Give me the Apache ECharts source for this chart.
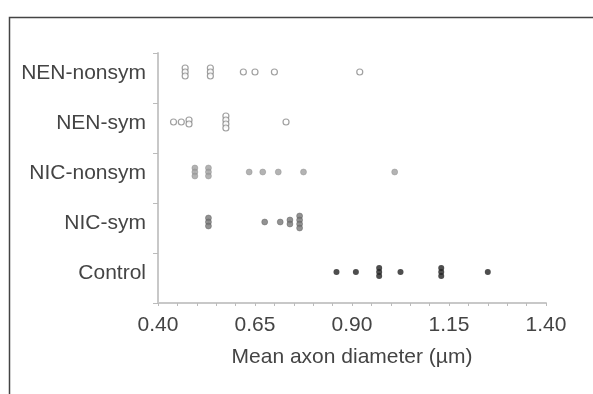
<!DOCTYPE html>
<html>
<head>
<meta charset="utf-8">
<style>
  html, body { margin: 0; padding: 0; background: #fff; }
  #chart { width: 593px; height: 394px; }
</style>
<script src="https://cdn.jsdelivr.net/npm/echarts@6/dist/echarts.min.js"></script>
</head>
<body>
<div id="chart"></div>
<script>
// categories, bottom to top
var groups = ['Control', 'NIC-sym', 'NIC-nonsym', 'NEN-sym', 'NEN-nonsym'];

// mean axon diameter per subject (repeated values stack up)
var controlVals = [0.86, 0.91, 0.97, 0.97, 0.97, 1.025, 1.13, 1.13, 1.13, 1.25];
var nicSymVals = [0.53, 0.53, 0.53, 0.675, 0.715, 0.74, 0.74, 0.765, 0.765, 0.765, 0.765];
var nicNonsymVals = [0.495, 0.495, 0.495, 0.53, 0.53, 0.53, 0.635, 0.67, 0.71, 0.775, 1.01];
var nenSymVals = [0.44, 0.46, 0.48, 0.48, 0.575, 0.575, 0.575, 0.575, 0.73];
var nenNonsymVals = [0.47, 0.47, 0.47, 0.535, 0.535, 0.535, 0.62, 0.65, 0.70, 0.92];

var xTicks = [0.40, 0.65, 0.90, 1.15, 1.40];

var chart = echarts.init(document.getElementById('chart'));

/**
 * dot plot: equal values are stacked vertically around the row
 */
function buildData(vals, groupName) {
    var counts = {};
    vals.forEach(function (v) { counts[v] = (counts[v] || 0) + 1; });
    var seen = {};
    return vals.map(function (v) {
        var n = counts[v];
        var i = seen[v] || 0;
        seen[v] = i + 1;
        var dy = (i - (n - 1) / 2) * 4;
        return { value: [v, groupName], symbolOffset: [0, -6 + dy] };
    });
}

function makeSeries(name, vals, style) {
    return {
        name: name,
        type: 'scatter',
        symbol: 'circle',
        symbolSize: 6,
        itemStyle: style,
        data: buildData(vals, name)
    };
}

var option = {
    backgroundColor: '#fff',
    animation: false,
    textStyle: { fontFamily: 'Liberation Sans, Arial, sans-serif' },
    graphic: [{
        type: 'rect',
        left: 7,
        top: 15,
        shape: { width: 640, height: 440 },
        style: { fill: 'none', stroke: '#444', lineWidth: 1.5 },
        silent: true
    }],
    grid: { left: 158, right: 47, top: 53, bottom: 91 },
    xAxis: {
        type: 'value',
        min: 0.40,
        max: 1.40,
        interval: 0.05,
        name: 'Mean axon diameter (µm)',
        nameLocation: 'middle',
        nameGap: 44,
        nameTextStyle: { fontSize: 21, color: '#444' },
        splitLine: { show: false },
        axisLine: { show: true, lineStyle: { color: '#c8c8c8', width: 2 } },
        axisTick: { show: true, length: 3, lineStyle: { color: '#bbb' } },
        axisLabel: {
            fontSize: 21,
            color: '#444',
            margin: 12,
            formatter: function (v) {
                for (var i = 0; i < xTicks.length; i++) {
                    if (Math.abs(v - xTicks[i]) < 1e-6) return xTicks[i].toFixed(2);
                }
                return '';
            }
        }
    },
    yAxis: {
        type: 'category',
        data: groups,
        boundaryGap: true,
        axisLine: { show: true, lineStyle: { color: '#c8c8c8', width: 2 } },
        axisTick: { show: true, length: 5, lineStyle: { color: '#bbb' } },
        axisLabel: {
            color: '#444',
            margin: 12,
            formatter: function (v) { return '{g|' + v + '}'; },
            rich: {
                g: { fontSize: 21, color: '#444', padding: [0, 0, 10, 0] }
            }
        },
        splitLine: { show: false }
    },
    series: [
        makeSeries('Control', controlVals, { color: '#222' }),
        makeSeries('NIC-sym', nicSymVals, { color: '#777', borderColor: '#555', borderWidth: 0.5 }),
        makeSeries('NIC-nonsym', nicNonsymVals, { color: '#a0a0a0', borderColor: '#888', borderWidth: 0.5 }),
        makeSeries('NEN-sym', nenSymVals, { color: '#fff', borderColor: '#888', borderWidth: 1.2 }),
        makeSeries('NEN-nonsym', nenNonsymVals, { color: '#fff', borderColor: '#888', borderWidth: 1.2 })
    ]
};

chart.setOption(option);
window.addEventListener('resize', function () { chart.resize(); });
</script>
</body>
</html>
